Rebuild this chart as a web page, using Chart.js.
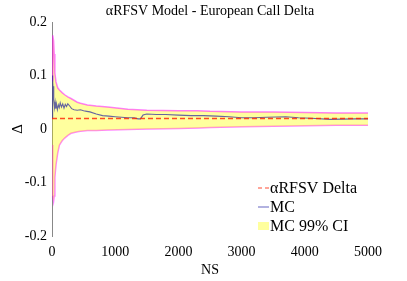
<!DOCTYPE html>
<html>
<head>
<meta charset="utf-8">
<script src="https://cdn.jsdelivr.net/npm/chart.js@4"></script>
<style>
  html, body { margin: 0; padding: 0; background: #ffffff; }
  #wrap { width: 407px; height: 281px; }
</style>
</head>
<body>
<div id="wrap"><canvas id="deltaChart"></canvas></div>
<script>
// ---------------- DATA ----------------
const deltaValue = 0.0196;
const deltaNs = [0, 5000];

const mcNs = [1, 5, 10, 15, 20, 25, 30, 40, 50, 60, 70, 85, 100, 115, 130, 150, 170, 190, 210, 230,
  250, 280, 310, 350, 400, 450, 500, 550, 600, 700, 800, 900, 1000, 1100, 1200, 1300, 1360, 1400,
  1440, 1500, 1650, 1800, 2000, 2200, 2400, 2600, 2800, 3000, 3200, 3400, 3700, 3900, 4100, 4400,
  4600, 4800, 5000];
const mcValues = [0.02, 0.06, 0.1, 0.09, 0.07, 0.08, 0.055, 0.04, 0.05, 0.038, 0.047, 0.036, 0.045,
  0.04, 0.049, 0.041, 0.047, 0.039, 0.046, 0.042, 0.047, 0.043, 0.038, 0.036, 0.035, 0.036, 0.034,
  0.033, 0.032, 0.028, 0.025, 0.024, 0.023, 0.022, 0.021, 0.021, 0.019, 0.019, 0.026, 0.028, 0.027,
  0.027, 0.026, 0.025, 0.025, 0.024, 0.023, 0.021, 0.021, 0.022, 0.023, 0.021, 0.020, 0.018,
  0.0185, 0.019, 0.019];

const ciNs = [2, 8, 15, 25, 35, 45, 63, 90, 117, 160, 200, 250, 300, 400, 450, 560, 700, 880, 1200,
  1500, 2000, 2300, 2500, 3000, 3500, 4000, 4500, 5000];
const ciUpper = [0.09, 0.15, 0.175, 0.165, 0.14, 0.105, 0.088, 0.077, 0.073, 0.068, 0.064, 0.06,
  0.057, 0.05, 0.048, 0.045, 0.043, 0.041, 0.037, 0.035, 0.034, 0.034, 0.033, 0.032, 0.032, 0.031,
  0.03, 0.03];
const ciLower = [-0.03, -0.1, -0.125, -0.135, -0.125, -0.09, -0.067, -0.045, -0.03, -0.022, -0.017,
  -0.012, -0.008, -0.005, -0.004, -0.003, -0.003, -0.002, -0.001, 0.0, 0.001, 0.002, 0.003, 0.004,
  0.005, 0.006, 0.007, 0.007];

const xTicks = [0, 1000, 2000, 3000, 4000, 5000];
const yTicks = [-0.2, -0.1, 0, 0.1, 0.2];

const titleText = 'αRFSV Model - European Call Delta';
const legendLabels = ['αRFSV Delta', 'MC', 'MC 99% CI'];

const FONT = '"Liberation Serif", serif';
Chart.defaults.font.family = FONT;
Chart.defaults.color = '#000000';

const deltaColor = 'rgba(255,30,0,0.8)';
const mcColor = 'rgba(20,20,160,0.65)';
const ciFill = 'rgba(255,255,0,0.38)';
const ciEdge = 'rgba(255,0,255,0.5)';

function pts(xs, ys) {
  return xs.map((x, i) => ({ x: x, y: ys[i] }));
}

// legend drawn inside the plot, bottom right (MATLAB style)
const insideLegend = {
  id: 'insideLegend',
  afterDraw(chart) {
    const ctx = chart.ctx;
    const area = chart.chartArea;
    const x0 = area.right - 110;
    const rows = [area.bottom - 48, area.bottom - 29, area.bottom - 10];
    ctx.save();
    ctx.font = '16px ' + FONT;
    ctx.textBaseline = 'middle';

    // delta
    ctx.strokeStyle = deltaColor;
    ctx.lineWidth = 1.2;
    ctx.setLineDash([4, 3]);
    ctx.beginPath();
    ctx.moveTo(x0, rows[0]);
    ctx.lineTo(x0 + 11, rows[0]);
    ctx.stroke();
    ctx.setLineDash([]);

    // mc
    ctx.strokeStyle = mcColor;
    ctx.lineWidth = 1;
    ctx.beginPath();
    ctx.moveTo(x0, rows[1]);
    ctx.lineTo(x0 + 11, rows[1]);
    ctx.stroke();

    // ci
    ctx.fillStyle = ciFill;
    ctx.fillRect(x0, rows[2] - 4, 11, 8);

    ctx.fillStyle = '#000000';
    for (let i = 0; i < legendLabels.length; i++) {
      ctx.fillText(legendLabels[i], x0 + 12, rows[i] + 1);
    }
    ctx.restore();
  }
};

const chart = new Chart(document.getElementById('deltaChart'), {
  type: 'line',
  data: {
    datasets: [
      {
        label: legendLabels[0],
        data: pts(deltaNs, [deltaValue, deltaValue]),
        borderColor: deltaColor,
        borderWidth: 1.4,
        borderDash: [5, 3],
        pointRadius: 0,
        fill: false,
        order: 0
      },
      {
        label: legendLabels[1],
        data: pts(mcNs, mcValues),
        borderColor: mcColor,
        borderWidth: 1.1,
        pointRadius: 0,
        fill: false,
        order: 1
      },
      {
        label: 'CI upper',
        data: pts(ciNs, ciUpper),
        borderColor: ciEdge,
        borderWidth: 1.5,
        backgroundColor: ciFill,
        pointRadius: 0,
        fill: '+1',
        order: 2
      },
      {
        label: 'CI lower',
        data: pts(ciNs, ciLower),
        borderColor: ciEdge,
        borderWidth: 1.5,
        pointRadius: 0,
        fill: false,
        order: 3
      }
    ]
  },
  options: {
    responsive: true,
    maintainAspectRatio: false,
    animation: false,
    layout: { padding: { right: 39 } },
    plugins: {
      legend: { display: false },
      tooltip: { enabled: false },
      title: {
        display: true,
        fullSize: false,
        text: titleText,
        color: '#000000',
        font: { size: 14, weight: 'normal' },
        padding: { top: 3, bottom: 2.2 }
      }
    },
    scales: {
      x: {
        type: 'linear',
        min: 0,
        max: 5000,
        afterFit: scale => { scale.height = 45; },
        afterBuildTicks: scale => { scale.ticks = xTicks.map(v => ({ value: v })); },
        grid: { display: false, drawTicks: false },
        border: { display: false },
        ticks: {
          color: '#000000',
          font: { size: 14 },
          padding: 8,
          maxRotation: 0,
          callback: v => String(v)
        },
        title: {
          display: true,
          text: 'NS',
          color: '#000000',
          font: { size: 14 },
          padding: { top: 0, bottom: 2 }
        }
      },
      y: {
        min: -0.2,
        max: 0.2,
        afterFit: scale => { scale.width = 52; },
        afterBuildTicks: scale => { scale.ticks = yTicks.map(v => ({ value: v })); },
        grid: { display: false, drawTicks: false },
        border: { display: true, color: '#888888', width: 1 },
        ticks: {
          color: '#000000',
          font: { size: 14 },
          padding: 5,
          callback: v => (v === 0 ? '0' : v.toFixed(1))
        },
        title: {
          display: true,
          text: 'Δ',
          color: '#000000',
          font: { size: 15 },
          padding: { top: 9, bottom: 0 }
        }
      }
    }
  },
  plugins: [insideLegend]
});
</script>
</body>
</html>
